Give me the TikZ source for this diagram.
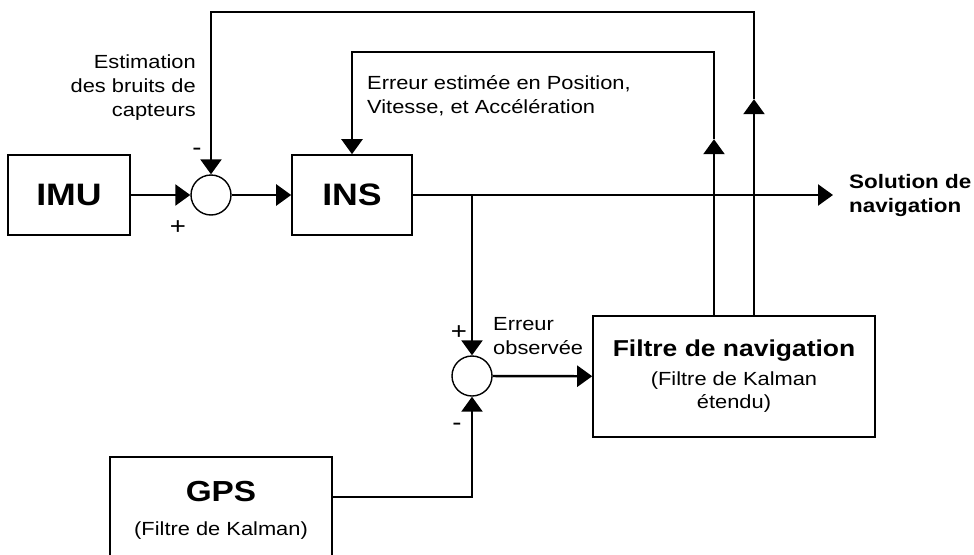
\documentclass[tikz,border=0pt]{standalone}
\usepackage{fontspec}
\setmainfont{Liberation Sans}[FakeStretch=1.15]
\usepackage{tikz}
\usetikzlibrary{positioning,arrows.meta,calc}
\newcommand{\lblfont}{\fontsize{19}{24}\selectfont}
\newcommand{\bigfont}{\fontsize{31}{36}\selectfont\bfseries}
\tikzset{
  blockbox/.style={draw, line width=1.6pt, fill=white, align=center, inner sep=0pt},
  sumnode/.style={draw, circle, line width=1.4pt, minimum size=40pt, inner sep=0pt},
  sig/.style={-{Triangle[length=15pt, width=21pt]}, line width=2.4pt},
  lbl/.style={font=\lblfont, inner sep=0pt},
  signlbl/.style={font=\fontsize{24}{24}\selectfont, inner sep=0pt}
}

\begin{document}
\begin{tikzpicture}[x=1pt, y=-1pt]
\useasboundingbox (0,0) rectangle (974,554);
\clip (0,0) rectangle (974,554);
% blocs
\node[blockbox, minimum width=122pt, minimum height=80pt, font=\bigfont] (imu) at (69,195) {IMU};
\node[sumnode] (s1) at (211,195) {};
\node[blockbox, minimum width=120pt, minimum height=80pt, font=\bigfont] (ins) at (352,195) {INS};
\node[sumnode] (s2) at (472,376) {};
\node[blockbox, minimum width=282pt, minimum height=121pt, font=\lblfont] (filtre) at (734,376.5)
  {{\fontsize{23}{26}\selectfont\bfseries Filtre de navigation}\\[5pt]
   (Filtre de Kalman\\[-1pt]étendu)};
\node[blockbox, minimum width=222pt, minimum height=106pt, font=\lblfont] (gps) at (221,510)
  {{\fontsize{29}{32}\selectfont\bfseries GPS}\\[10pt](Filtre de Kalman)};
\coordinate (br) at (s2 |- ins.east);
\coordinate (sol) at (833,195);
% liaisons
\draw[sig] (imu) -- (s1);
\draw[sig] (s1) -- (ins);
\draw[sig] (ins.east) -- (sol);
\draw[sig] (br) -- (s2.north);
\draw[sig] (s2) -- (filtre);
\draw[sig] ($(gps.east)+(0,-13)$) -| (s2.south);
\draw[sig] ($(filtre.north)+(-20,0)$) -- ++(0,-176) coordinate (t1);
\draw[sig] (t1) -- ++(0,-87) -| (ins.north);
\draw[sig] ($(filtre.north)+(20,0)$) -- ++(0,-216) coordinate (t2);
\draw[sig] (t2) -- ++(0,-87) -| (s1.north);
% textes
\node[lbl, align=right, anchor=east] (bruit) at (196,88) {Estimation\\des bruits de\\capteurs};
\node[lbl, align=left, anchor=west] (errest) at (367,96) {Erreur estimée en Position,\\Vitesse, et Accélération};
\node[lbl, align=left, anchor=west] (errobs) at (493,336) {Erreur\\observée};
\node[lbl, align=left, anchor=west, font=\fontsize{19.5}{24}\selectfont\bfseries] (solnav) at (849,195) {Solution de\\navigation};
\node[signlbl] (m1) at (197,152) {-};
\node[signlbl] (p1) at (178,228) {+};
\node[signlbl] (p2) at (459,333) {+};
\node[signlbl] (m2) at (457,427) {-};
\end{tikzpicture}
\end{document}
